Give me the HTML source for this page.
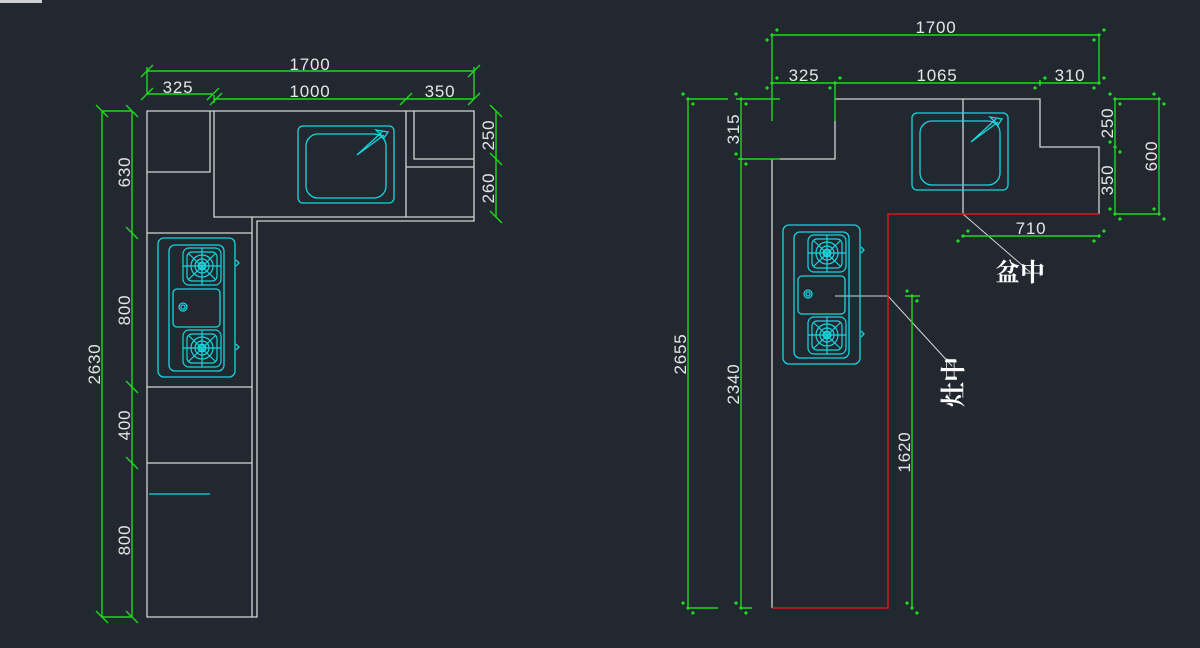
<!DOCTYPE html>
<html><head><meta charset="utf-8"><style>
html,body{margin:0;padding:0;background:#212830;}
svg{display:block}
text{font-family:"Liberation Sans",sans-serif;fill:#e6e6e6;font-size:17px;letter-spacing:0.8px}
</style></head><body>
<svg width="1200" height="648" viewBox="0 0 1200 648" xmlns="http://www.w3.org/2000/svg">
<defs>
<g id="burner" fill="none" stroke="#17d6de" stroke-width="1.2">
  <rect x="-19" y="-18" width="38" height="37" rx="6"/>
  <rect x="-15" y="-14" width="30" height="29" rx="5"/>
  <circle r="11"/><circle r="7"/><circle r="3.5" stroke-width="2"/>
  <line x1="-19" y1="0" x2="19" y2="0"/><line x1="0" y1="-18" x2="0" y2="19"/>
  <line x1="-13" y1="-12" x2="13" y2="13"/><line x1="13" y1="-12" x2="-13" y2="13"/>
</g>
<g id="stove" fill="none" stroke="#17d6de" stroke-width="1.3">
  <rect x="0" y="0" width="77" height="139" rx="6"/>
  <rect x="11" y="7" width="55" height="126" rx="6"/>
  <rect x="15" y="51" width="47" height="38" rx="4"/>
  <circle cx="25" cy="69" r="4"/><circle cx="25" cy="69" r="2"/>
  <use href="#burner" x="44" y="28"/>
  <use href="#burner" x="44" y="110"/>
  <path d="M78 22 l3 3 l-3 3 M78 106 l3 3 l-3 3"/>
</g>
<g id="sink" fill="none" stroke="#17d6de" stroke-width="1.3">
  <rect x="0" y="0" width="96" height="77" rx="5"/>
  <rect x="8" y="8" width="80" height="64" rx="12"/>
  <path d="M59 29 L86 9 M59 29 L84 6 M78 4 L90 6 L86 12 Z"/>
</g>
</defs>

<rect x="0" y="0" width="42" height="3" fill="#cfcfcf"/>

<!-- LEFT PLAN -->
<g fill="none" stroke="#d4d4d4" stroke-width="1.3">
  <path d="M147 111 H474 V221 H257 V617 H147 Z"/>
  <path d="M147 172 H210 V111 M214 111 V217 H474 M252 217 V617"/>
  <path d="M406 111 V217 M414 111 V159 H474 M406 167 H474"/>
  <path d="M147 233 H252 M147 387 H252 M147 463 H252"/>
</g>
<line x1="149" y1="494" x2="210" y2="494" stroke="#17d6de" stroke-width="1.3"/>
<use href="#stove" x="158" y="238"/>
<use href="#sink" x="298" y="126"/>

<g stroke="#1fd81f" stroke-width="1.4" fill="none">
  <path d="M147 71 H474 M147 67 V94 M474 67 V99"/>
  <path d="M147 94 H213 M214 99 H474 M214 95 V103"/>
  <path d="M102 111 H132 M102 111 V617 H132 M132 111 V617"/>
  <path d="M496 111 V217"/>
  <path d="M141 77 l12 -12 M468 77 l12 -12 M141 100 l12 -12 M207 100 l12 -12 M210 105 l12 -12 M400 105 l12 -12 M468 105 l12 -12
           M96 105 l12 12 M126 105 l12 12 M126 227 l12 12 M126 381 l12 12 M126 457 l12 12 M96 611 l12 12 M126 611 l12 12
           M490 105 l12 12 M490 153 l12 12 M490 211 l12 12"/>
</g>
<text x="310" y="70" text-anchor="middle">1700</text>
<text x="178" y="93" text-anchor="middle">325</text>
<text x="310" y="97" text-anchor="middle">1000</text>
<text x="440" y="97" text-anchor="middle">350</text>
<text transform="translate(130 172) rotate(-90)" text-anchor="middle">630</text>
<text transform="translate(130 310) rotate(-90)" text-anchor="middle">800</text>
<text transform="translate(130 425) rotate(-90)" text-anchor="middle">400</text>
<text transform="translate(130 540) rotate(-90)" text-anchor="middle">800</text>
<text transform="translate(100 364) rotate(-90)" text-anchor="middle">2630</text>
<text transform="translate(494 135) rotate(-90)" text-anchor="middle">250</text>
<text transform="translate(494 188) rotate(-90)" text-anchor="middle">260</text>

<!-- RIGHT PLAN -->
<g fill="none" stroke="#d4d4d4" stroke-width="1.3">
  <path d="M835 121 V159 H780 M835 99 H1040 V147 H1099 V214 M772 159 V608"/>
  <path d="M963 99 V214"/>
  <path d="M963 214 L1030 272" stroke-width="1"/>
  <path d="M835 296 H888 L952 366" stroke-width="1"/>
</g>
<path d="M1099 214 H888 V608 H772" fill="none" stroke="#d81818" stroke-width="1.5"/>
<use href="#stove" x="783" y="225"/>
<use href="#sink" x="912" y="113"/>

<g stroke="#1fd81f" stroke-width="1.4" fill="none">
  <path d="M772 35 H1099 M772 35 V83 M1099 35 V83"/>
  <path d="M772 83 H1099 M772 83 V121 M835 83 V121 M1040 80 V86"/>
  <path d="M688 99 H728 M736 99 H780 M688 99 V608 H718 M741 99 V608 H752 M738 159 H780"/>
  <path d="M912 296 V608 M905 296 H920"/>
  <path d="M1115 99 H1159 M1115 214 H1159 M1115 99 V214 M1159 99 V214"/>
  <path d="M963 236 H1099"/>
</g>
<g stroke="#1fd81f" stroke-width="3" stroke-dasharray="3 4" fill="none">
  <path d="M766 41 l12 -12 M1093 41 l12 -12 M766 89 l12 -12 M829 89 l12 -12 M1034 89 l12 -12 M1093 89 l12 -12
           M682 93 l12 12 M735 93 l12 12 M735 153 l12 12 M682 602 l12 12 M735 602 l12 12 M906 290 l12 12 M906 602 l12 12
           M1109 93 l12 12 M1153 93 l12 12 M1109 141 l12 12 M1109 208 l12 12 M1153 208 l12 12
           M957 242 l12 -12 M1093 242 l12 -12"/>
</g>
<text x="936" y="33" text-anchor="middle">1700</text>
<text x="804" y="81" text-anchor="middle">325</text>
<text x="937" y="81" text-anchor="middle">1065</text>
<text x="1070" y="81" text-anchor="middle">310</text>
<text transform="translate(739 129) rotate(-90)" text-anchor="middle">315</text>
<text transform="translate(739 384) rotate(-90)" text-anchor="middle">2340</text>
<text transform="translate(686 354) rotate(-90)" text-anchor="middle">2655</text>
<text transform="translate(910 452) rotate(-90)" text-anchor="middle">1620</text>
<text transform="translate(1113 123) rotate(-90)" text-anchor="middle">250</text>
<text transform="translate(1113 180) rotate(-90)" text-anchor="middle">350</text>
<text transform="translate(1157 156) rotate(-90)" text-anchor="middle">600</text>
<text x="1031" y="234" text-anchor="middle">710</text>
<text x="1020" y="281" text-anchor="middle" style="font-family:'Liberation Serif','Noto Serif CJK SC',serif;font-size:25px;fill:#fff;font-weight:bold;letter-spacing:0">盆中</text>
<text transform="translate(962 382) rotate(-90)" text-anchor="middle" style="font-family:'Liberation Serif','Noto Serif CJK SC',serif;font-size:25px;fill:#fff;font-weight:bold;letter-spacing:0">灶中</text>
</svg>
</body></html>
